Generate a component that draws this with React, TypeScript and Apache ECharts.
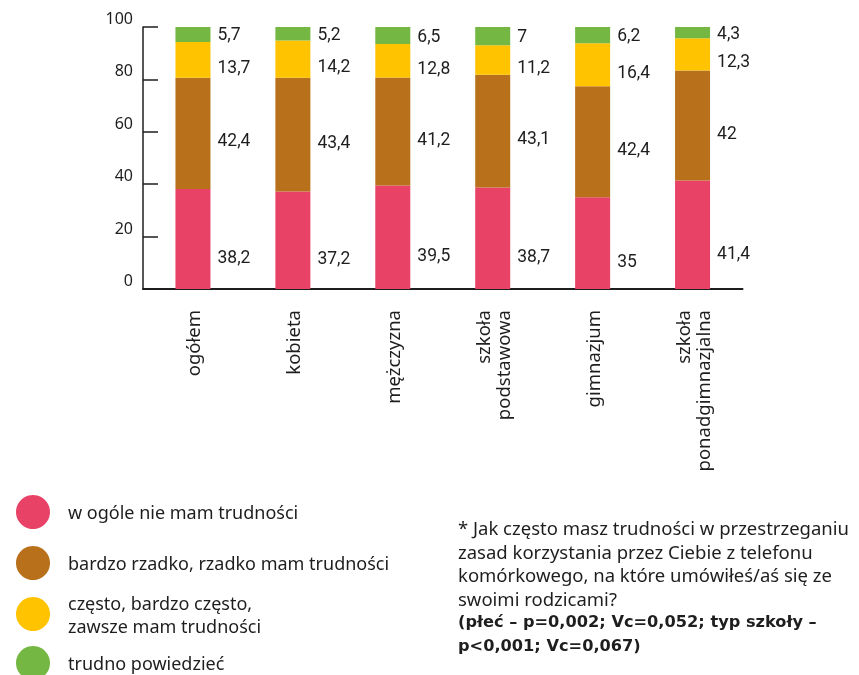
import React, { useEffect, useRef } from "react";
import * as echarts from "echarts";

const categories = ["ogółem", "kobieta", "mężczyzna", "szkoła\npodstawowa", "gimnazjum", "szkoła\nponadgimnazjalna"];
const seriesNames = [
  "w ogóle nie mam trudności",
  "bardzo rzadko, rzadko mam trudności",
  "często, bardzo często,\nzawsze mam trudności",
  "trudno powiedzieć",
];
const noDifficulty = [38.2, 37.2, 39.5, 38.7, 35, 41.4];
const rarely = [42.4, 43.4, 41.2, 43.1, 42.4, 42];
const often = [13.7, 14.2, 12.8, 11.2, 16.4, 12.3];
const hardToSay = [5.7, 5.2, 6.5, 7, 6.2, 4.3];
const yTicks = [0, 20, 40, 60, 80, 100];
const noteLines = [
  "* Jak często masz trudności w przestrzeganiu",
  "zasad korzystania przez Ciebie z telefonu",
  "komórkowego, na które umówiłeś/aś się ze",
  "swoimi rodzicami?",
];
const noteBoldLines = [
  "(płeć – p=0,002; Vc=0,052; typ szkoły –",
  "p<0,001; Vc=0,067)",
];

const colors = ["#E84267", "#B8711A", "#FFC300", "#74B843"];
const labelOffsets = [[0, 18], [0, 7], [0, 7], [0, 0]];
const TEXT = "#1e1e1e";
const FONT = "'Noto Sans', sans-serif";

export default function App() {
  const ref = useRef<HTMLDivElement>(null);
  useEffect(() => {
    if (!ref.current) return;
    const chart = echarts.init(ref.current, undefined, { renderer: "svg" });
    const values = [noDifficulty, rarely, often, hardToSay];
    const legendY = [512, 563, 614, 663];
    const noteText = [
      ...noteLines.map((l) => `{n|${l}}`),
      ...noteBoldLines.map((l) => `{b|${l}}`),
    ].join("\n");
    const option: any = {
      animation: false,
      grid: { left: 143, right: 116.5, top: 27, bottom: 386, containLabel: false },
      xAxis: {
        type: "category",
        data: categories,
        axisLine: { lineStyle: { color: TEXT, width: 2 } },
        axisTick: { inside: true, length: 7, lineStyle: { color: TEXT, width: 1.5 } },
        axisLabel: {
          rotate: 90,
          margin: 21,
          fontSize: 18.5,
          lineHeight: 20,
          color: TEXT,
          fontFamily: FONT,
          interval: 0,
        },
      },
      yAxis: {
        type: "value",
        min: yTicks[0],
        max: yTicks[yTicks.length - 1],
        interval: 20,
        splitLine: { show: false },
        axisLine: { show: true, lineStyle: { color: TEXT, width: 1.5 } },
        axisTick: { show: true, inside: true, length: 15, lineStyle: { color: TEXT, width: 1.5 } },
        axisLabel: {
          margin: 10,
          fontSize: 16,
          color: TEXT,
          fontFamily: FONT,
          verticalAlign: "bottom",
          lineHeight: 18,
        },
      },
      series: values.map((v, i) => ({
        name: seriesNames[i],
        type: "bar",
        stack: "total",
        barWidth: 35,
        data: v,
        itemStyle: { color: colors[i] },
        label: {
          show: true,
          position: "right",
          distance: 7,
          offset: labelOffsets[i],
          fontSize: 17.5,
          color: TEXT,
          fontFamily: "Roboto, sans-serif",
          formatter: (p: any) => String(p.value).replace(".", ","),
        },
      })),
      graphic: [
        ...seriesNames.flatMap((name, i) => [
          { type: "circle", shape: { cx: 33, cy: legendY[i], r: 17 }, style: { fill: colors[i] } },
          {
            type: "text",
            x: 68,
            y: legendY[i],
            style: {
              text: name,
              fontSize: 18,
              lineHeight: 23,
              fontFamily: FONT,
              fill: TEXT,
              verticalAlign: "middle",
              align: "left",
            },
          },
        ]),
        {
          type: "text",
          x: 458,
          y: 516,
          style: {
            text: noteText,
            fill: TEXT,
            verticalAlign: "top",
            rich: {
              n: { fontSize: 18.5, lineHeight: 23.5, fontFamily: FONT, fill: TEXT },
              b: { fontSize: 16.2, lineHeight: 23.5, fontFamily: "'DejaVu Sans', sans-serif", fontWeight: "bold", fill: TEXT },
            },
          },
        },
      ],
    };
    chart.setOption(option);
    return () => chart.dispose();
  }, []);
  return <div ref={ref} style={{ position: "fixed", left: 0, top: 0, width: 859, height: 675 }} />;
}
